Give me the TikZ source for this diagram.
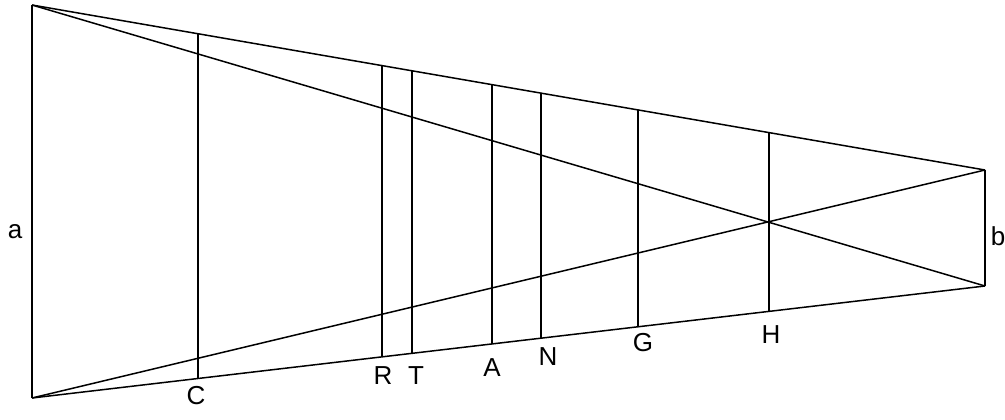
\documentclass[tikz,border=0pt]{standalone}
\usepackage{fontspec}
\setmainfont{Liberation Sans}
\usetikzlibrary{calc}
\begin{document}
\begin{tikzpicture}[x=1pt,y=-1pt,
  edge/.style={line width=1.5pt,black},
  lbl/.style={font=\fontsize{26}{28}\selectfont,inner sep=0pt}]
\useasboundingbox (0,0) rectangle (1005,420);
\coordinate (TL) at (32,5);
\coordinate (BL) at (32,398);
\coordinate (TR) at (985,170);
\coordinate (BR) at (985,286);
\draw[edge] (TL) -- (BL);
\draw[edge] (TR) -- (BR);
\draw[edge] (TL) -- (TR);
\draw[edge] (BL) -- (BR);
\draw[edge] (TL) -- (BR);
\draw[edge] (BL) -- (TR);
\foreach \n/\x in {C/198,R/382,T/412,A/492,N/541,G/638,H/769}{
  \pgfmathsetmacro{\f}{(\x-32)/953}
  \coordinate (t\n) at ($(TL)!\f!(TR)$);
  \coordinate (b\n) at ($(BL)!\f!(BR)$);
  \draw[edge] (t\n) -- (b\n);
}
\node[lbl] (la) at (15,232) {a};
\node[lbl] (lb) at (998,236) {b};
\node[lbl] (lC) at (196,396) {C};
\node[lbl] (lR) at (383,376) {R};
\node[lbl] (lT) at (416,376) {T};
\node[lbl] (lA) at (492,368) {A};
\node[lbl] (lN) at (548,357) {N};
\node[lbl] (lG) at (643,343) {G};
\node[lbl] (lH) at (771,335) {H};
\end{tikzpicture}
\end{document}
